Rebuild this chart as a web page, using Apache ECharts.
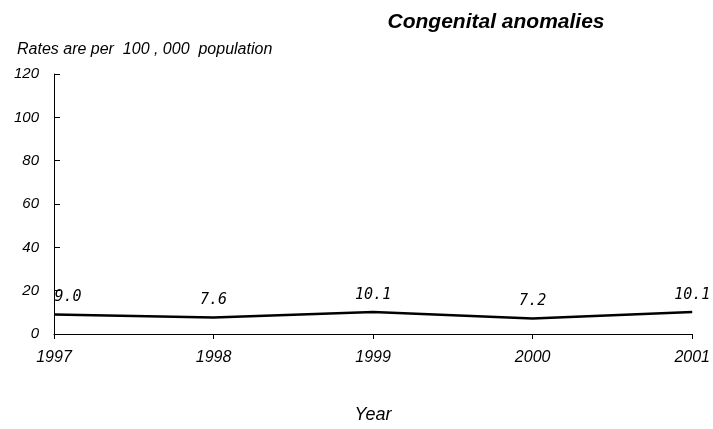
<!DOCTYPE html>
<html><head><meta charset="utf-8">
<script src="https://cdn.jsdelivr.net/npm/echarts@6/dist/echarts.min.js"></script>
<style>html,body{margin:0;padding:0;background:#fff}#c{width:713px;height:429px}</style>
</head><body><div id="c"></div>
<script>
const years = ['1997','1998','1999','2000','2001'];
const rates = [9.0, 7.6, 10.1, 7.2, 10.1];
const yTicks = [0, 20, 40, 60, 80, 100, 120];

const chart = echarts.init(document.getElementById('c'));
chart.setOption({
  animation: false,
  backgroundColor: '#fff',
  title: [
    {text: 'Congenital anomalies', left: 491, top: 7, textAlign: 'center',
     textStyle: {fontFamily: 'Liberation Sans', fontStyle: 'italic', fontWeight: 'bold', fontSize: 21, color: '#000'}},
    {text: 'Rates are per  100 , 000  population', left: 12, top: 37,
     textStyle: {fontFamily: 'Liberation Sans', fontStyle: 'italic', fontWeight: 'normal', fontSize: 16, color: '#000'}}
  ],
  grid: {left: 54, right: 20, top: 74, bottom: 89},
  xAxis: {
    type: 'category', data: years, boundaryGap: false,
    name: 'Year', nameLocation: 'middle', nameGap: 72,
    nameTextStyle: {fontFamily: 'Liberation Sans', fontStyle: 'italic', fontSize: 18, color: '#000'},
    axisLine: {lineStyle: {color: '#000', width: 1}},
    axisTick: {show: true, inside: false, length: 5, lineStyle: {color: '#000'}},
    axisLabel: {fontFamily: 'Liberation Sans', fontStyle: 'italic', fontSize: 16, color: '#000', margin: 16},
    splitLine: {show: false}
  },
  yAxis: {
    type: 'value', min: yTicks[0], max: yTicks[yTicks.length-1], interval: 20,
    axisLine: {show: true, lineStyle: {color: '#000', width: 1}},
    axisTick: {show: true, inside: true, length: 6, lineStyle: {color: '#000'}},
    axisLabel: {fontFamily: 'Liberation Sans', fontStyle: 'italic', fontSize: 15, color: '#000', margin: 15},
    splitLine: {show: false}
  },
  series: [{
    type: 'line',
    data: rates.map((v, i) => i === 0 ? {value: v, label: {offset: [14, 0]}} : v),
    symbol: 'circle', symbolSize: 1, showSymbol: true,
    itemStyle: {color: 'rgba(0,0,0,0)'},
    lineStyle: {color: '#000', width: 2.5},
    label: {show: true, position: 'top', distance: 9,
      formatter: p => Number(p.value).toFixed(1),
      fontFamily: 'DejaVu Sans Mono', fontStyle: 'italic', fontSize: 15, color: '#000'}
  }]
});
</script></body></html>
